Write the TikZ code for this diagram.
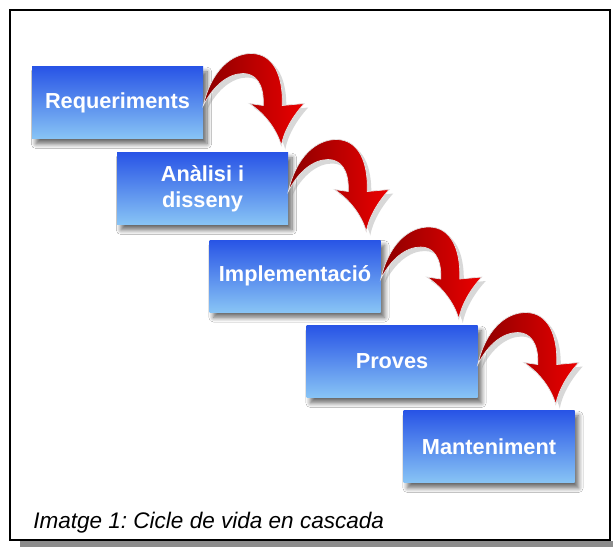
\documentclass[tikz,border=0pt]{standalone}
\usepackage{fontspec}
\setmainfont{Liberation Sans}
\usetikzlibrary{shadows.blur,calc}
\definecolor{boxtop}{RGB}{40,84,230}
\definecolor{boxbot}{RGB}{136,196,245}
\definecolor{reddark}{RGB}{140,0,0}
\definecolor{redbright}{RGB}{235,0,0}
\tikzset{
  stepbox/.style={rectangle, minimum width=128.25pt, minimum height=54pt,
    inner sep=0pt, top color=boxtop, bottom color=boxbot, text=white,
    font=\bfseries\fontsize{16.3}{19.5}\selectfont, align=center,
    blur shadow={shadow xshift=3pt, shadow yshift=-4pt, shadow blur steps=8, shadow blur radius=3.5pt, shadow opacity=60}},
  redarrow/.pic={
    \fill[gray, opacity=0.3] (4,4) .. controls (12,-31) and (32,-48) .. (52,-48) .. controls (74,-48) and (84,-26) .. (83,4) -- (105,2) .. controls (92,16) and (84,32) .. (82,44) .. controls (78,29) and (66,12) .. (50,2) -- (64,4) .. controls (65,-18) and (56,-28) .. (44,-28) .. controls (29,-28) and (14,-16) .. cycle;
    \path[left color=reddark, right color=redbright, draw=white!80!gray, line width=0.5pt]
      (0,0) .. controls (8,-35) and (28,-52) .. (48,-52) .. controls (70,-52) and (80,-30) .. (79,0)
      -- (101,-2) .. controls (88,12) and (80,28) .. (78,40) .. controls (74,25) and (62,8) .. (46,-2)
      -- (60,0) .. controls (61,-22) and (52,-32) .. (40,-32) .. controls (25,-32) and (10,-20) .. cycle;
  }
}
\begin{document}
\begin{tikzpicture}[x=0.75pt, y=-0.75pt]
\useasboundingbox (0,0) rectangle (613,547);
\fill[white] (0,0) rectangle (613,547);
\fill[gray!90] (20,541) rectangle (613,547);
\draw[line width=1.5pt, fill=white] (10,10) rectangle (610,540);

\node[stepbox] (req) at (117.5,102.5) {Requeriments};
\node[stepbox] (ana) at (202.5,188.5) {Anàlisi i\\disseny};
\node[stepbox] (imp) at (295,276) {Implementació};
\node[stepbox] (pro) at (392,361.5) {Proves};
\node[stepbox] (man) at (489,446.5) {Manteniment};

\pic at ($(req.east)+(0,3)$) {redarrow};
\pic at ($(ana.east)+(0,3)$) {redarrow};
\pic at ($(imp.east)+(0,3)$) {redarrow};
\pic at ($(pro.east)+(0,3)$) {redarrow};

\node[anchor=base west, inner sep=0pt, font=\itshape\fontsize{16.9}{20}\selectfont\frenchspacing] (cap) at (33,528) {Imatge 1: Cicle de vida en cascada};
\end{tikzpicture}
\end{document}
